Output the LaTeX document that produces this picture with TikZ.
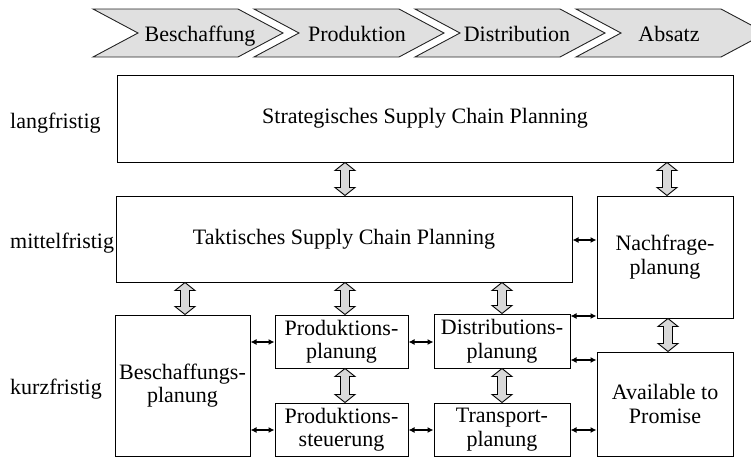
\documentclass[tikz,border=0pt]{standalone}
\usepackage{fontspec}
\setmainfont{Liberation Serif}
\usetikzlibrary{arrows.meta,calc}
\newcommand\chevronshape[1]{\filldraw[chev] (#1,9) -- ++(145,0) -- ++(45,24) -- ++(-45,24) -- ++(-145,0) -- ++(45,-24) -- cycle;}
\newcommand\widearr[2]{\filldraw[wide] (#1) -- ++(10,8) -- ++(-5.5,0) -- ($(#2)+(4.5,-8)$) -- ++(5.5,0) -- (#2) -- ++(-10,-8) -- ++(5.5,0) -- ($(#1)+(-4.5,8)$) -- ++(-5.5,0) -- cycle;}
\begin{document}
\begin{tikzpicture}[x=1pt,y=-1pt,
  box/.style={draw,line width=1pt,inner sep=0pt,align=center,font=\fontsize{22}{23.5}\selectfont},
  chev/.style={draw=black!85,fill=black!12,line width=0.9pt,line join=miter},
  chevtext/.style={anchor=base,inner sep=0pt,font=\fontsize{22}{24}\selectfont},
  lbl/.style={anchor=base west,inner sep=0pt,font=\fontsize{22}{24}\selectfont},
  wide/.style={draw,fill=black!15,line width=0.9pt,line join=miter},
  smallarr/.style={line width=1.2pt,{Latex[length=6pt,width=6pt]}-{Latex[length=6pt,width=6pt]}},
]
\useasboundingbox (0,0) rectangle (751,458);
% value chain chevrons
\chevronshape{93}
\chevronshape{254}
\chevronshape{415}
\chevronshape{576}
\node[chevtext] (c1) at (200,41) {Beschaffung};
\node[chevtext] (c2) at (357,41) {Produktion};
\node[chevtext] (c3) at (517,41) {Distribution};
\node[chevtext] (c4) at (669,41) {Absatz};
% row labels
\node[lbl] (l1) at (10,128) {langfristig};
\node[lbl] (l2) at (10,248) {mittelfristig};
\node[lbl] (l3) at (10,394) {kurzfristig};
% boxes
\node[box,minimum width=616,minimum height=87] (strat) at (425,118.5) {Strategisches Supply Chain Planning};
\node[box,minimum width=456,minimum height=86] (takt) at (344,239) {Taktisches Supply Chain Planning};
\node[box,minimum width=136,minimum height=122] (nach) at (665,257) {Nachfrage-\\planung};
\node[box,minimum width=135,minimum height=141] (besch) at (182.5,385.5) {Beschaffungs-\\planung};
\node[box,minimum width=133,minimum height=53] (pplan) at (341.5,341.5) {Produktions-\\planung};
\node[box,minimum width=133,minimum height=53] (psteu) at (341.5,429.5) {Produktions-\\steuerung};
\node[box,minimum width=136,minimum height=54] (dplan) at (502,341) {Distributions-\\planung};
\node[box,minimum width=136,minimum height=53] (tplan) at (502,429.5) {Transport-\\planung};
\node[box,minimum width=136,minimum height=104] (atp) at (665,404) {Available to\\Promise};
% wide double arrows
\widearr{strat.south -| 345,0}{takt.north -| 345,0}
\widearr{strat.south -| 667,0}{nach.north -| 667,0}
\widearr{takt.south -| 185,0}{besch.north -| 185,0}
\widearr{takt.south -| 345,0}{pplan.north -| 345,0}
\widearr{takt.south -| 502,0}{dplan.north -| 502,0}
\widearr{nach.south -| 668,0}{atp.north -| 668,0}
\widearr{pplan.south -| 345,0}{psteu.north -| 345,0}
\widearr{dplan.south -| 502,0}{tplan.north -| 502,0}
% small double arrows
\draw[smallarr] (takt.east |- 0,240) -- (nach.west |- 0,240);
\draw[smallarr] (besch.east |- 0,342) -- (pplan.west |- 0,342);
\draw[smallarr] (besch.east |- 0,430) -- (psteu.west |- 0,430);
\draw[smallarr] (pplan.east |- 0,342) -- (dplan.west |- 0,342);
\draw[smallarr] (psteu.east |- 0,430) -- (tplan.west |- 0,430);
\draw[smallarr] (dplan.east |- 0,316) -- (nach.west |- 0,316);
\draw[smallarr] (dplan.east |- 0,360) -- (atp.west |- 0,360);
\draw[smallarr] (tplan.east |- 0,430) -- (atp.west |- 0,430);
\end{tikzpicture}
\end{document}
